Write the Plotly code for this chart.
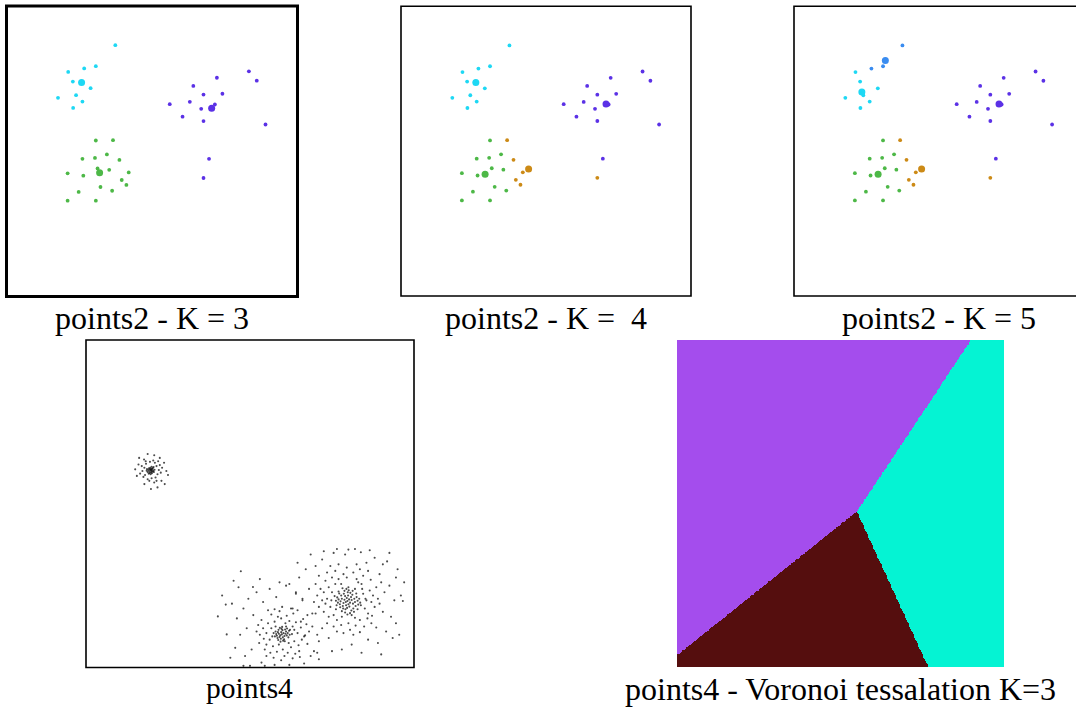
import numpy as np
import plotly.graph_objects as go

W, H = 1076, 709

# ---------------- points2 data (arbitrary 0-10 units) ----------------
points2_x = [3.74, 3.07, 2.67, 2.12, 2.28, 2.89, 1.77, 2.39, 2.61, 2.29,
             8.33, 8.60, 7.23, 6.42, 6.77, 7.42, 5.61, 6.30, 6.69, 7.16, 6.05, 6.77, 8.90, 6.96, 6.77,
             3.07, 3.66, 2.61, 3.04, 3.45, 3.88, 3.13, 3.53, 2.10, 2.64, 4.20, 3.96, 4.12, 3.23, 2.48, 3.63, 2.10, 3.07]
points2_y = [8.65, 7.93, 7.85, 7.73, 7.40, 7.17, 6.84, 6.93, 6.71, 6.49,
             7.75, 7.43, 7.53, 7.25, 6.95, 6.98, 6.62, 6.70, 6.46, 6.61, 6.19, 6.04, 5.92, 4.74, 4.08,
             5.37, 5.38, 4.74, 4.77, 4.89, 4.70, 4.41, 4.36, 4.24, 4.16, 4.27, 4.01, 3.84, 3.77, 3.60, 3.64, 3.30, 3.30]

labels_k3 = [0] * 10 + [1] * 15 + [2] * 18
labels_k4 = [0] * 10 + [1] * 14 + [3] + [2, 3, 2, 2, 2, 3, 2, 2, 2, 2, 3, 3, 3, 2, 2, 2, 2, 2]
labels_k5 = [4, 4, 4] + [0] * 7 + [1] * 14 + [3] + [2, 3, 2, 2, 2, 3, 2, 2, 2, 2, 3, 3, 3, 2, 2, 2, 2, 2]

centroids_k3 = {"x": [2.58, 7.05, 3.20], "y": [7.37, 6.48, 4.26], "label": [0, 1, 2]}
centroids_k4 = {"x": [2.58, 7.07, 2.90, 4.40], "y": [7.37, 6.63, 4.20, 4.38], "label": [0, 1, 2, 3]}
centroids_k5 = {"x": [2.34, 7.07, 2.90, 4.40, 3.15], "y": [7.04, 6.63, 4.20, 4.38, 8.13], "label": [0, 1, 2, 3, 4]}

cluster_colors = ["#1ed8f4", "#5b31e6", "#4db847", "#cc8a16", "#3a8cf0"]

# ---------------- points4 data ----------------
p4_left = [(1.97, 6.02), (1.95, 6.05), (2.00, 6.00), (1.93, 5.99), (2.02, 6.06), (1.98, 5.96), (1.90, 6.03), (2.05, 6.01),
           (1.96, 6.10), (2.01, 5.93), (1.92, 6.08), (2.07, 5.97), (1.88, 5.97), (1.99, 6.04), (2.04, 6.09), (1.94, 5.94),
           (2.09, 6.04), (1.86, 6.06), (2.00, 6.13), (1.97, 5.90), (2.03, 5.98), (1.91, 5.92), (2.06, 6.12), (1.85, 6.01),
           (1.99, 6.07), (1.78, 6.10), (2.15, 6.15), (1.80, 5.88), (2.18, 5.90), (2.10, 6.25), (1.83, 6.22), (2.22, 6.03),
           (1.72, 6.00), (2.00, 5.78), (1.95, 6.28), (2.25, 6.18), (1.75, 5.82), (2.12, 5.80), (1.88, 5.75), (2.28, 5.95),
           (1.70, 6.15), (2.05, 6.32), (1.82, 6.30), (2.20, 6.30), (1.93, 5.70), (2.32, 6.10), (1.65, 5.92), (2.15, 5.70),
           (1.77, 6.35), (2.08, 5.65), (2.08, 6.48), (2.25, 6.40), (1.60, 6.20), (2.45, 6.00), (2.38, 6.25), (1.55, 5.85),
           (1.98, 5.45), (1.78, 5.60), (2.30, 5.70), (1.62, 6.40), (2.50, 5.88), (1.88, 6.52), (2.40, 5.60), (1.50, 6.05),
           (2.18, 5.50)]
p4_big = [(7.97, 2.03), (8.02, 2.08), (7.92, 2.00), (8.05, 1.98), (7.95, 2.12), (8.10, 2.06), (7.88, 2.07), (8.00, 1.93),
          (7.85, 1.97), (8.08, 2.15), (7.93, 1.90), (8.14, 1.95), (7.99, 2.20), (7.80, 2.10), (8.18, 2.10), (7.90, 2.18),
          (8.03, 1.86), (7.83, 1.88), (8.12, 2.22), (7.76, 2.02), (8.20, 2.00), (7.96, 1.82), (8.06, 2.28), (7.86, 2.25),
          (8.22, 1.88), (7.74, 1.93), (7.98, 2.30), (8.15, 1.80), (7.78, 2.20), (8.25, 2.15), (7.91, 1.78), (8.09, 1.74),
          (7.70, 2.08), (8.28, 2.04), (7.84, 1.80), (8.01, 2.36), (7.72, 2.26), (8.24, 2.26), (7.94, 2.40), (8.17, 1.70),
          (7.68, 1.98), (8.30, 1.92), (7.80, 1.72), (8.05, 1.66), (7.88, 2.34), (8.13, 2.34), (7.66, 2.14), (8.33, 2.10),
          (7.97, 1.62), (7.75, 1.84), (8.20, 2.40), (7.62, 2.04), (8.36, 1.98), (7.90, 1.68), (8.10, 1.60), (7.82, 2.42),
          (8.28, 1.78), (7.70, 2.32), (8.00, 2.45), (7.64, 1.90),
          (7.50, 2.30), (8.45, 2.25), (7.45, 1.85), (8.50, 1.80), (7.60, 2.55), (8.40, 2.55), (7.55, 1.60), (8.55, 2.05),
          (7.35, 2.10), (8.65, 2.35), (7.40, 2.45), (8.60, 1.65), (7.70, 2.70), (8.25, 2.70), (7.65, 1.45), (8.35, 1.45),
          (7.30, 1.95), (8.70, 2.00), (7.95, 2.75), (8.00, 1.35), (7.25, 2.30), (8.75, 2.20), (7.50, 2.75), (8.45, 2.80),
          (7.40, 1.55), (8.58, 1.50), (7.20, 2.05), (8.80, 1.85), (7.85, 2.85), (8.15, 2.90), (7.78, 1.30), (8.22, 1.28),
          (7.15, 2.40), (8.85, 2.45), (7.30, 2.65), (8.68, 2.68), (7.25, 1.70), (8.72, 1.58), (7.60, 2.95), (8.35, 3.00),
          (7.55, 1.25), (8.48, 1.25), (7.10, 1.85), (8.90, 2.10), (7.95, 3.05), (8.05, 1.15), (7.05, 2.20), (8.95, 1.95),
          (7.35, 2.90), (8.60, 2.95), (7.35, 1.35), (8.70, 1.35), (7.00, 2.55), (9.00, 2.60), (7.70, 3.15), (8.25, 3.15),
          (7.65, 1.10), (8.35, 1.08), (7.00, 1.65), (9.05, 1.70), (7.45, 3.10), (8.55, 3.20), (7.20, 1.20), (8.85, 1.22),
          (6.95, 2.00), (9.10, 2.30), (7.85, 1.05), (8.15, 1.00), (7.10, 2.80), (8.95, 2.85), (7.58, 2.18), (8.38, 1.90),
          (7.62, 1.78), (8.42, 2.40), (7.78, 2.55), (8.20, 1.52), (7.80, 1.55), (8.30, 2.60), (7.48, 2.05), (8.52, 2.10),
          (6.80, 2.40), (9.25, 2.50), (6.75, 1.60), (9.30, 1.55), (7.20, 3.30), (8.80, 3.35), (7.40, 0.90), (8.60, 0.85),
          (6.60, 2.10), (9.40, 2.05), (7.00, 3.10), (9.05, 3.15), (6.90, 1.25), (9.15, 1.10), (7.90, 3.45), (8.10, 0.70),
          (6.50, 2.75), (9.45, 2.75), (6.55, 1.40), (9.45, 1.35), (7.55, 3.50), (8.38, 3.52), (7.10, 0.80), (8.90, 0.75),
          (6.40, 2.30), (9.60, 2.20), (6.70, 3.00), (9.18, 3.24), (6.65, 0.95), (9.35, 0.90), (8.00, 3.60), (7.80, 0.55),
          (6.30, 1.80), (9.66, 2.03), (7.25, 3.55), (8.65, 3.58), (6.45, 3.20), (9.50, 3.00), (7.50, 0.50), (8.40, 0.45),
          (6.20, 2.55), (9.70, 2.60), (6.85, 3.45), (9.25, 3.50), (9.55, 1.00), (6.35, 1.15), (8.20, 3.62), (7.65, 3.62),
          (9.00, 0.40), (7.05, 0.45)]
p4_mid = [(5.97, 1.01), (6.02, 1.05), (5.92, 0.98), (6.05, 0.96), (5.95, 1.08), (6.08, 1.03), (5.88, 1.03), (6.00, 0.92),
          (5.90, 0.93), (6.12, 0.98), (5.99, 1.14), (5.85, 1.08), (6.10, 1.10), (5.94, 0.88), (6.04, 0.86), (5.82, 0.97),
          (6.15, 1.05), (5.96, 1.18), (6.07, 1.16), (5.87, 1.15), (6.17, 0.92), (5.80, 1.02), (6.01, 0.82), (5.91, 1.21),
          (6.13, 1.19), (5.84, 0.90), (6.19, 1.12), (5.78, 1.10), (6.06, 0.80), (5.98, 1.24), (5.86, 0.84), (6.21, 1.00),
          (5.76, 0.95), (6.10, 1.25), (5.93, 0.79),
          (5.65, 1.20), (6.30, 1.25), (5.60, 0.85), (6.35, 0.80), (5.75, 1.40), (6.20, 1.42), (5.70, 0.65), (6.25, 0.62),
          (5.50, 1.05), (6.45, 1.05), (5.95, 1.50), (6.00, 0.55), (5.55, 1.35), (6.40, 1.38), (5.50, 0.70), (6.48, 0.68),
          (5.85, 1.55), (6.12, 1.58), (5.82, 0.48), (6.15, 0.45), (5.40, 1.20), (6.55, 1.22), (5.42, 0.88), (6.58, 0.85),
          (5.65, 1.62), (6.32, 1.65), (5.62, 0.45), (6.38, 0.42), (5.35, 1.45), (6.62, 1.48), (5.30, 1.00), (6.68, 0.98),
          (5.90, 1.72), (6.05, 0.35), (5.45, 0.55), (6.50, 0.50), (5.75, 1.78), (6.25, 1.80), (5.72, 0.30), (6.30, 0.28),
          (5.25, 1.30), (6.72, 1.32), (5.28, 0.75), (6.75, 0.72), (5.55, 1.75), (6.45, 1.75), (5.50, 0.35), (6.52, 0.32),
          (5.20, 1.10), (6.80, 1.10), (5.98, 1.85), (5.95, 0.22), (5.68, 0.95), (6.28, 1.02), (5.78, 1.25), (6.18, 0.75),
          (5.72, 1.05), (6.22, 1.15), (5.88, 0.70), (6.08, 1.35),
          (5.10, 1.60), (6.90, 1.65), (5.05, 0.55), (6.95, 0.50), (5.40, 2.00), (6.60, 2.05), (5.35, 0.15), (6.65, 0.12),
          (4.90, 1.20), (7.05, 1.00), (5.80, 2.15), (6.20, 0.08), (4.80, 1.80), (4.85, 0.35), (5.20, 2.30), (7.10, 0.25),
          (4.70, 1.00), (5.60, 2.40), (4.60, 1.50), (4.95, 2.10), (4.55, 0.60), (5.75, 0.08), (4.45, 1.95), (5.09, 2.46),
          (4.72, 2.94), (4.29, 1.01), (4.26, 1.92), (4.02, 1.56), (4.40, 0.30), (6.40, 2.25), (4.65, 2.45), (5.30, 2.70),
          (4.15, 2.20), (6.85, 0.35), (5.00, 0.05), (5.45, 0.05), (4.50, 2.65), (6.10, 2.50), (5.90, 2.60), (4.80, 0.05)]

# k-means (K=3) centroids of points4 used for the Voronoi tessellation
voronoi_cx = [1.97, 5.95, 8.02]
voronoi_cy = [6.02, 1.04, 1.99]
voronoi_colors = ["#a44ded", "#550e0e", "#05f3d3"]

captions = ["points2 - K = 3", "points2 - K =\u00a0 4", "points2 - K = 5", "points4",
            "points4 - Voronoi tessalation K=3"]

# ---------------- layout geometry (pixels) ----------------
def px_x(v):
    return v / W


def px_y(v):
    return 1 - v / H


panels = {
    1: dict(x0=6.5, x1=297.5, y0=6, y1=296.5, xr=[0, 10], lw=3),
    2: dict(x0=401, x1=691, y0=6.3, y1=296, xr=[0, 10], lw=1.6),
    3: dict(x0=794, x1=1084, y0=6.3, y1=296, xr=[0, 10], lw=1.6),
    4: dict(x0=86, x1=414, y0=340, y1=667.5, xr=[0, 10], lw=1.6),
    5: dict(x0=677, x1=1004, y0=340, y1=667, xr=[0, 10], lw=0),
}

fig = go.Figure()

# points2 panels
for i, (labels, cents) in enumerate([(labels_k3, centroids_k3), (labels_k4, centroids_k4),
                                      (labels_k5, centroids_k5)], start=1):
    ax = "" if i == 1 else str(i)
    fig.add_trace(go.Scatter(x=points2_x, y=points2_y, mode="markers",
                             marker=dict(size=3.8, color=[cluster_colors[l] for l in labels], line=dict(width=0)),
                             xaxis="x" + ax, yaxis="y" + ax, hoverinfo="skip", showlegend=False))
    fig.add_trace(go.Scatter(x=cents["x"], y=cents["y"], mode="markers",
                             marker=dict(size=7, color=[cluster_colors[l] for l in cents["label"]], line=dict(width=0)),
                             xaxis="x" + ax, yaxis="y" + ax, hoverinfo="skip", showlegend=False))

# points4 scatter
p4 = p4_left + p4_big + p4_mid
fig.add_trace(go.Scatter(x=[p[0] for p in p4], y=[p[1] for p in p4], mode="markers",
                         marker=dict(size=2.1, color="rgba(0,0,0,0.7)", line=dict(width=0)),
                         xaxis="x4", yaxis="y4", hoverinfo="skip", showlegend=False))

# Voronoi tessellation (nearest centroid on a grid)
gx = np.linspace(0, 10, 400)
gy = np.linspace(0, 10, 400)
GX, GY = np.meshgrid(gx, gy)
dists = np.stack([(GX - cx) ** 2 + (GY - cy) ** 2 for cx, cy in zip(voronoi_cx, voronoi_cy)])
zone = np.argmin(dists, axis=0)
cs = []
for k, c in enumerate(voronoi_colors):
    cs.append([k / 3, c])
    cs.append([(k + 1) / 3, c])
fig.add_trace(go.Heatmap(x=gx, y=gy, z=zone, zmin=-0.5, zmax=2.5, colorscale=cs, showscale=False,
                         xaxis="x5", yaxis="y5", hoverinfo="skip"))

layout = dict(width=W, height=H, margin=dict(l=0, r=0, t=0, b=0), paper_bgcolor="white",
              plot_bgcolor="white", showlegend=False)
shapes = []
for i, p in panels.items():
    ax = "" if i == 1 else str(i)
    xd1 = min(1.0, px_x(p["x1"]))
    xr = p["xr"]
    if px_x(p["x1"]) > 1:
        xr = [0, 10 * (W - p["x0"]) / (p["x1"] - p["x0"])]
    layout["xaxis" + ax] = dict(domain=[px_x(p["x0"]), xd1], range=xr, visible=False,
                                anchor="y" + ax, fixedrange=True)
    layout["yaxis" + ax] = dict(domain=[px_y(p["y1"]), px_y(p["y0"])], range=[0, 10], visible=False,
                                anchor="x" + ax, fixedrange=True)
    if p["lw"] > 0:
        shapes.append(dict(type="rect", xref="paper", yref="paper",
                           x0=px_x(p["x0"]), x1=px_x(p["x1"]), y0=px_y(p["y1"]), y1=px_y(p["y0"]),
                           line=dict(color="black", width=p["lw"]), fillcolor="rgba(0,0,0,0)"))
layout["shapes"] = shapes

cap_pos = [(151.5, 318, 32), (545.5, 318, 32), (939, 318, 32), (249, 688, 29.5), (840, 689, 32)]
layout["annotations"] = [dict(text=t, x=px_x(cx), y=px_y(cy), xref="paper", yref="paper", showarrow=False,
                              xanchor="center", yanchor="middle",
                              font=dict(family="Liberation Serif, Times New Roman, serif", size=s, color="black"))
                         for t, (cx, cy, s) in zip(captions, cap_pos)]
fig.update_layout(**layout)
fig.write_html("out.html", config={"displayModeBar": False},
               post_script="document.body.style.margin='0px';document.body.style.overflow='hidden';")
